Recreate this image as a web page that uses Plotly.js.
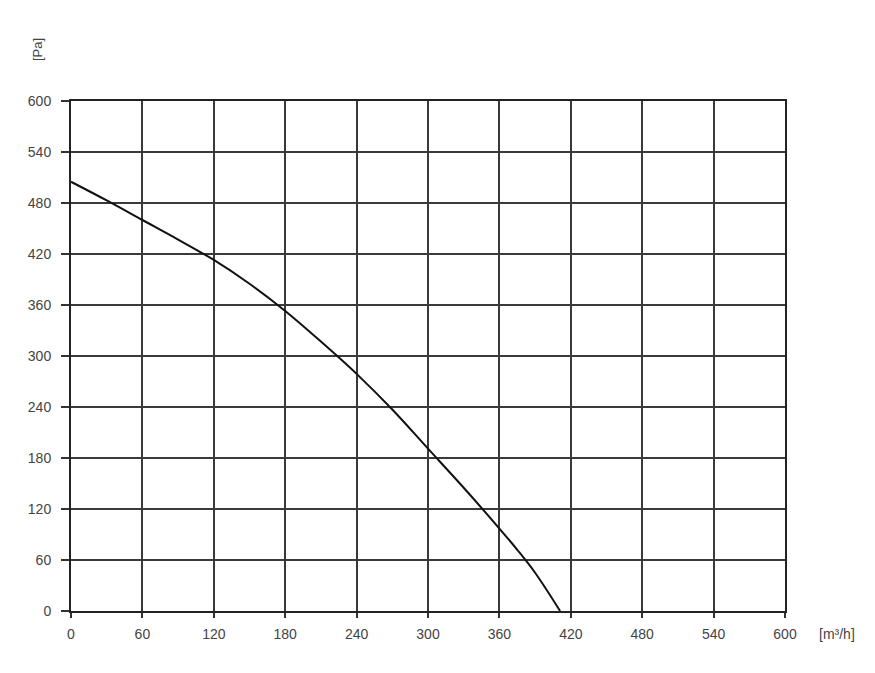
<!DOCTYPE html>
<html><head><meta charset="utf-8">
<script src="https://cdn.plot.ly/plotly-3.0.1.min.js"></script>
<style>html,body{margin:0;padding:0;background:#fff;}#chart{width:875px;height:673px;}</style>
</head><body><div id="chart"></div>
<script>
var flowValues = [0, 30, 60, 90, 120, 150, 180, 210, 240, 270, 300, 330, 360, 375, 390, 411];
var pressureValues = [505, 483, 460, 437, 413, 385, 353, 317, 279, 237, 191, 145, 97, 72, 45, 0];
var tickValues = [0, 60, 120, 180, 240, 300, 360, 420, 480, 540, 600];
var xUnit = "[m³/h]";
var yUnit = "[Pa]";

var fontFam = 'Liberation Sans, Arial, sans-serif';
var trace = {
  x: flowValues, y: pressureValues, type: 'scatter', mode: 'lines',
  line: {color: '#111', width: 2, shape: 'spline', smoothing: 1},
  hoverinfo: 'none', showlegend: false
};
var axisCommon = {
  range: [0, 600], tickvals: tickValues, ticktext: tickValues.map(String),
  showgrid: true, gridcolor: '#3a3a3a', gridwidth: 2,
  showline: true, linecolor: '#222', linewidth: 2, mirror: true,
  zeroline: false, ticks: 'outside', tickcolor: '#333', tickwidth: 2,
  tickfont: {family: fontFam, size: 14, color: '#444'}
};
var layout = {
  width: 875, height: 673,
  margin: {l: 71, r: 90, t: 101, b: 62},
  paper_bgcolor: '#fff', plot_bgcolor: '#fff',
  xaxis: Object.assign({}, axisCommon, {ticklen: 5, ticklabelstandoff: 4}),
  yaxis: Object.assign({}, axisCommon, {ticklen: 8, ticklabelstandoff: 7}),
  annotations: [
    {text: yUnit, xref: 'paper', yref: 'paper', x: (38-71)/714, y: 1 + (101-50)/510, showarrow: false,
     textangle: -90, xanchor: 'center', yanchor: 'middle',
     font: {family: fontFam, size: 13, color: '#444'}},
    {text: xUnit, xref: 'paper', yref: 'paper', x: (837-71)/714, y: -(634-611)/510, showarrow: false,
     xanchor: 'center', yanchor: 'middle',
     font: {family: fontFam, size: 14, color: '#444'}}
  ]
};
Plotly.newPlot('chart', [trace], layout, {displayModeBar: false, staticPlot: true});
</script></body></html>
